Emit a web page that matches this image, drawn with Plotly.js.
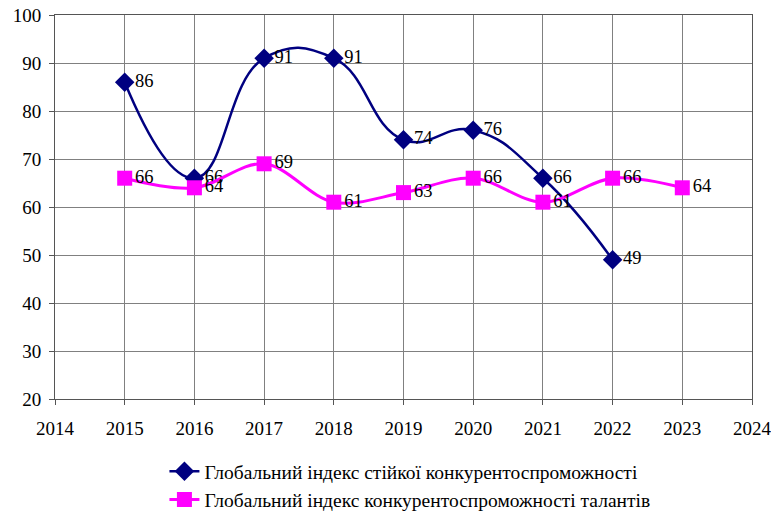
<!DOCTYPE html>
<html><head><meta charset="utf-8">
<script src="https://cdn.plot.ly/plotly-3.0.1.min.js"></script>
<style>body{margin:0;background:#fff}#c{width:771px;height:513px}</style>
</head><body><div id="c"></div>
<script>
const yearsA = [2015, 2016, 2017, 2018, 2019, 2020, 2021, 2022];
const valuesA = [86, 66, 91, 91, 74, 76, 66, 49];
const yearsB = [2015, 2016, 2017, 2018, 2019, 2020, 2021, 2022, 2023];
const valuesB = [66, 64, 69, 61, 63, 66, 61, 66, 64];
const nameA = "Глобальний індекс стійкої конкурентоспроможності";
const nameB = "Глобальний індекс конкурентоспроможності талантів";
const xTicks = [2014, 2015, 2016, 2017, 2018, 2019, 2020, 2021, 2022, 2023, 2024];
const yTicks = [20, 30, 40, 50, 60, 70, 80, 90, 100];

const FAM = "Liberation Serif";
const traces = [
  {x: yearsA, y: valuesA, name: nameA, type: "scatter", mode: "lines+markers+text",
   line: {color: "#000080", width: 2.5, shape: "spline", smoothing: 1.3},
   marker: {symbol: "diamond", size: 15, color: "#000080"},
   text: valuesA.map(String), textposition: "middle right",
   textfont: {family: FAM, size: 18.5, color: "#000"}, cliponaxis: false},
  {x: yearsB, y: valuesB, name: nameB, type: "scatter", mode: "lines+markers+text",
   line: {color: "#FF00FF", width: 3, shape: "spline", smoothing: 1},
   marker: {symbol: "square", size: 15, color: "#FF00FF"},
   text: valuesB.map(String), textposition: "middle right",
   textfont: {family: FAM, size: 18.5, color: "#000"}, cliponaxis: false}
];
const layout = {
  width: 771, height: 513,
  margin: {l: 55, r: 19, t: 15, b: 114, autoexpand: false},
  paper_bgcolor: "#fff", plot_bgcolor: "#fff",
  font: {family: FAM, size: 19, color: "#000"},
  showlegend: true,
  legend: {orientation: "v", x: 0.157, xanchor: "left",
           y: -0.138, yanchor: "top",
           font: {family: FAM, size: 19.5, color: "#000"}, tracegroupgap: 0},
  xaxis: {range: [2014, 2024], tickvals: xTicks, ticktext: xTicks.map(String),
          showgrid: true, gridcolor: "#808080", gridwidth: 1,
          showline: true, linecolor: "#555", mirror: true, linewidth: 1,
          ticks: "outside", ticklen: 5, tickcolor: "#555", zeroline: false,
          ticklabelstandoff: 7, ticklabeloverflow: "allow",
          tickfont: {family: FAM, size: 19, color: "#000"}},
  yaxis: {range: [20, 100], tickvals: yTicks, ticktext: yTicks.map(String),
          showgrid: true, gridcolor: "#808080", gridwidth: 1,
          showline: true, linecolor: "#555", mirror: true, linewidth: 1,
          ticks: "outside", ticklen: 5, tickcolor: "#555", zeroline: false,
          ticklabelstandoff: 4, ticklabeloverflow: "allow",
          tickfont: {family: FAM, size: 19, color: "#000"}}
};
Plotly.newPlot("c", traces, layout, {displayModeBar: false});
</script></body></html>
